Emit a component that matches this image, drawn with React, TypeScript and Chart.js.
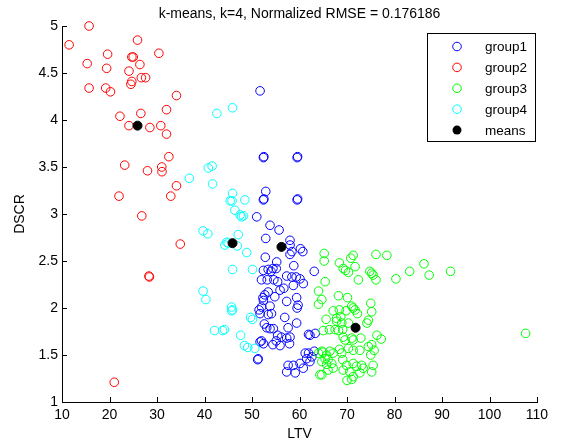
import React, { useEffect, useRef } from "react";
import { Chart, registerables } from "chart.js";
Chart.register(...registerables);

const TITLE = "k-means, k=4, Normalized RMSE = 0.176186";
const X_LABEL = "LTV";
const Y_LABEL = "DSCR";
const X_TICKS = [10, 20, 30, 40, 50, 60, 70, 80, 90, 100, 110];
const Y_TICKS = [1, 1.5, 2, 2.5, 3, 3.5, 4, 4.5, 5];

const group1: [number, number][] = [
  [51.7, 4.31], [52.4, 3.60], [52.5, 3.61], [59.5, 3.60], [59.6, 3.61],
  [52.9, 3.24], [52.4, 3.15], [52.5, 3.16], [59.5, 3.15], [59.6, 3.16],
  [51.0, 2.97], [53.8, 2.88], [55.7, 2.83], [52.9, 2.74], [58.0, 2.72], [58.0, 2.67],
  [58.4, 2.60], [58.0, 2.57], [60.2, 2.63], [60.7, 2.60],
  [52.8, 2.54], [55.2, 2.49], [58.8, 2.45], [63.1, 2.39],
  [52.4, 2.40], [53.4, 2.41], [54.4, 2.42], [55.1, 2.42], [54.0, 2.39],
  [57.3, 2.34], [58.4, 2.33], [59.3, 2.33], [60.1, 2.31], [60.8, 2.26], [58.7, 2.24],
  [52.0, 2.30], [53.2, 2.30], [54.6, 2.30], [55.4, 2.28],
  [55.9, 2.19], [56.7, 2.21], [53.4, 2.17], [52.7, 2.14], [54.8, 2.12], [52.3, 2.11], [52.4, 2.08], [57.3, 2.07],
  [59.4, 2.11], [59.7, 2.03], [59.5, 2.00],
  [51.5, 1.98], [52.0, 2.01], [53.8, 2.02], [54.1, 1.94], [53.4, 1.93], [51.7, 1.94], [56.9, 1.90],
  [59.4, 1.84], [52.6, 1.83], [53.1, 1.79], [54.5, 1.78], [57.6, 1.79], [53.8, 1.78],
  [52.0, 1.65], [51.7, 1.64], [52.4, 1.62],
  [55.4, 1.71], [56.2, 1.69], [57.3, 1.68], [58.0, 1.69], [55.1, 1.65], [55.9, 1.60], [57.9, 1.62], [54.4, 1.61],
  [61.9, 1.72], [62.2, 1.71], [63.3, 1.73],
  [61.2, 1.52], [61.9, 1.52], [63.1, 1.54], [61.5, 1.46], [62.6, 1.48], [62.2, 1.43],
  [57.6, 1.39], [58.7, 1.39], [60.1, 1.41], [60.8, 1.36], [59.1, 1.31], [57.3, 1.32],
  [51.2, 1.45], [51.3, 1.46],
];

const group2: [number, number][] = [
  [11.5, 4.80], [15.7, 5.0], [15.3, 4.60], [15.7, 4.34], [19.6, 4.70], [19.4, 4.55], [19.2, 4.34], [20.2, 4.30],
  [24.7, 4.67], [25.0, 4.67], [25.9, 4.85], [26.4, 4.59], [24.1, 4.52], [24.7, 4.41], [24.5, 4.38],
  [26.7, 4.45], [27.6, 4.45], [30.4, 4.71], [34.1, 4.26], [22.2, 4.04], [26.6, 4.07], [32.0, 4.11],
  [24.1, 3.94], [28.5, 3.92], [30.8, 3.94], [32.0, 3.85], [23.2, 3.52], [28.0, 3.46], [31.0, 3.50], [31.05, 3.45],
  [32.5, 3.61], [34.1, 3.30], [32.9, 3.19], [22.0, 3.19], [26.8, 2.98], [34.9, 2.68], [28.3, 2.34], [28.4, 2.33],
  [21.0, 1.21],
];

const group3: [number, number][] = [
  [65.2, 2.58], [65.2, 2.50], [71.3, 2.56], [70.8, 2.53], [68.4, 2.48], [76.1, 2.57], [78.4, 2.56],
  [69.2, 2.42], [69.7, 2.40], [70.3, 2.38], [71.7, 2.44], [74.8, 2.39], [75.2, 2.37], [75.5, 2.35], [76.1, 2.30],
  [72.4, 2.30], [80.3, 2.31], [83.2, 2.39], [86.2, 2.47], [87.3, 2.35], [91.8, 2.39], [107.6, 1.73],
  [65.4, 2.28], [64.0, 2.18], [64.7, 2.09], [64.0, 2.04], [68.2, 2.13], [70.1, 2.11], [75.0, 2.05], [75.2, 1.96],
  [71.0, 2.02], [71.3, 2.00], [71.7, 1.98], [72.2, 1.94], [67.1, 1.97], [68.4, 1.98], [69.8, 1.97],
  [74.5, 1.87], [74.2, 1.84], [65.6, 1.88], [67.8, 1.86], [68.9, 1.84], [70.3, 1.84],
  [65.0, 1.76], [66.3, 1.77], [67.5, 1.77], [68.2, 1.76], [69.1, 1.77],
  [69.2, 1.69], [69.6, 1.66], [71.0, 1.68], [71.3, 1.66], [72.9, 1.68], [76.3, 1.71], [77.2, 1.67],
  [74.5, 1.59], [75.2, 1.61], [75.7, 1.55], [75.0, 1.50],
  [64.7, 1.54], [65.7, 1.50], [66.4, 1.54], [67.1, 1.52], [68.4, 1.56], [68.9, 1.52], [70.3, 1.57], [71.3, 1.55], [72.7, 1.55],
  [64.7, 1.43], [65.7, 1.40], [66.8, 1.41], [69.1, 1.45], [69.9, 1.39], [69.2, 1.34], [70.6, 1.32],
  [71.3, 1.41], [72.0, 1.38], [73.1, 1.39], [73.4, 1.36], [71.3, 1.27], [72.7, 1.31], [75.2, 1.32], [75.5, 1.39],
  [64.3, 1.29], [67.1, 1.36], [64.0, 1.52], [64.9, 1.53], [65.4, 1.46], [66.0, 1.45], [64.7, 1.29], [66.0, 1.34],
  [67.8, 1.89], [68.7, 1.91], [70.0, 1.23], [71.0, 1.24],
];

const group4: [number, number][] = [
  [45.9, 4.13], [42.6, 4.07], [40.8, 3.49], [41.6, 3.51], [36.8, 3.38], [41.7, 3.32], [45.9, 3.22],
  [45.4, 3.14], [45.8, 3.14], [48.5, 3.15], [46.4, 3.04], [47.5, 2.99], [48.2, 2.98], [47.8, 2.97],
  [39.7, 2.82], [40.7, 2.79], [47.1, 2.78], [44.7, 2.70], [44.3, 2.67], [45.0, 2.69], [46.9, 2.66],
  [48.9, 2.59], [45.9, 2.41], [50.1, 2.41],
  [39.7, 2.18], [40.3, 2.09], [45.7, 2.01], [45.9, 1.98], [45.7, 1.97], [49.7, 1.90], [50.1, 1.88],
  [42.1, 1.76], [43.8, 1.76], [44.2, 1.77], [47.6, 1.71], [48.4, 1.60], [49.1, 1.58], [50.6, 1.57],
];

const means: [number, number][] = [
  [25.9, 3.94], [45.9, 2.69], [56.2, 2.65], [71.8, 1.79],
];

const FONT = "'Liberation Sans', Arial, Helvetica, sans-serif";

const toPts = (arr: [number, number][]) => arr.map(([x, y]) => ({ x, y }));

const decorPlugin = {
  id: "decor",
  afterDraw(chart: any) {
    const { ctx, chartArea: a, scales } = chart;
    ctx.save();
    ctx.strokeStyle = "#000";
    ctx.lineWidth = 1;
    ctx.beginPath();
    X_TICKS.forEach((v) => {
      const px = Math.round(scales.x.getPixelForValue(v)) + 0.5;
      ctx.moveTo(px, a.bottom);
      ctx.lineTo(px, a.bottom - 5);
    });
    Y_TICKS.forEach((v) => {
      const py = Math.round(scales.y.getPixelForValue(v)) + 0.5;
      ctx.moveTo(a.left, py);
      ctx.lineTo(a.left + 5, py);
    });
    ctx.stroke();

    ctx.fillStyle = "#000";
    ctx.textAlign = "center";
    ctx.textBaseline = "middle";
    ctx.font = `14px ${FONT}`;
    const cx = (a.left + a.right) / 2;
    ctx.fillText(TITLE, cx, 14);
    ctx.fillText(X_LABEL, cx, 434);
    ctx.save();
    ctx.translate(20, (a.top + a.bottom) / 2);
    ctx.rotate(-Math.PI / 2);
    ctx.fillText(Y_LABEL, 0, 0);
    ctx.restore();

    // legend
    const bx = 427.5, by = 33.5, bw = 108, bh = 108;
    ctx.fillStyle = "#fff";
    ctx.fillRect(bx, by, bw, bh);
    ctx.strokeStyle = "#000";
    ctx.strokeRect(bx, by, bw, bh);
    ctx.font = `13.5px ${FONT}`;
    ctx.textAlign = "left";
    const rows = chart.data.datasets;
    rows.forEach((ds: any, i: number) => {
      const yy = 46.5 + i * 20.9;
      ctx.beginPath();
      ctx.arc(457, yy, ds.pointRadius, 0, Math.PI * 2);
      if (ds.filled) {
        ctx.fillStyle = ds.borderColor;
        ctx.fill();
      } else {
        ctx.strokeStyle = ds.borderColor;
        ctx.lineWidth = 1;
        ctx.stroke();
      }
      ctx.fillStyle = "#000";
      ctx.fillText(ds.label, 485, yy + 1);
    });
    ctx.restore();
  },
};

export default function App() {
  const ref = useRef<HTMLCanvasElement | null>(null);
  useEffect(() => {
    if (!ref.current) return;
    const mk = (label: string, data: [number, number][], color: string, order: number) => ({
      label,
      data: toPts(data),
      borderColor: color,
      backgroundColor: "rgba(0,0,0,0)",
      pointRadius: 4.3,
      pointHoverRadius: 4.3,
      borderWidth: 1,
      pointBorderWidth: 1,
      clip: false,
      order,
      filled: false,
    });
    const chart = new Chart(ref.current, {
      type: "scatter",
      data: {
        datasets: [
          mk("group1", group1, "#0000ff", 4),
          mk("group2", group2, "#ff0000", 3),
          mk("group3", group3, "#00ff00", 2),
          mk("group4", group4, "#00ffff", 1),
          {
            label: "means",
            data: toPts(means),
            borderColor: "#000000",
            backgroundColor: "#000000",
            pointRadius: 4.5,
            pointHoverRadius: 4.5,
            borderWidth: 1,
            clip: false,
            order: 0,
            filled: true,
          } as any,
        ] as any,
      },
      options: {
        animation: false,
        responsive: false,
        devicePixelRatio: 1,
        events: [],
        layout: { padding: { top: 26, right: 31, left: 0, bottom: 0 } },
        plugins: { legend: { display: false }, tooltip: { enabled: false }, title: { display: false } },
        scales: {
          x: {
            type: "linear",
            min: 10,
            max: 110,
            afterFit: (s: any) => { s.height = 43; },
            afterBuildTicks: (s: any) => { s.ticks = X_TICKS.map((v) => ({ value: v })); },
            ticks: { color: "#000", font: { family: FONT, size: 14 }, padding: 5, callback: (v: any) => String(v), maxRotation: 0, autoSkip: false },
            grid: { drawOnChartArea: false, drawTicks: false },
            border: { display: true, color: "#000", width: 1 },
          },
          y: {
            type: "linear",
            min: 1,
            max: 5,
            afterFit: (s: any) => { s.width = 62; },
            afterBuildTicks: (s: any) => { s.ticks = Y_TICKS.map((v) => ({ value: v })); },
            ticks: { color: "#000", font: { family: FONT, size: 14 }, padding: 4, callback: (v: any) => String(v), autoSkip: false },
            grid: { drawOnChartArea: false, drawTicks: false },
            border: { display: true, color: "#000", width: 1 },
          },
        },
      } as any,
      plugins: [decorPlugin],
    });
    return () => chart.destroy();
  }, []);
  return (
    <div style={{ position: "fixed", left: 0, top: 0, width: 568, height: 445, background: "#fff" }}>
      <canvas ref={ref} width={568} height={445} style={{ display: "block" }} />
    </div>
  );
}
